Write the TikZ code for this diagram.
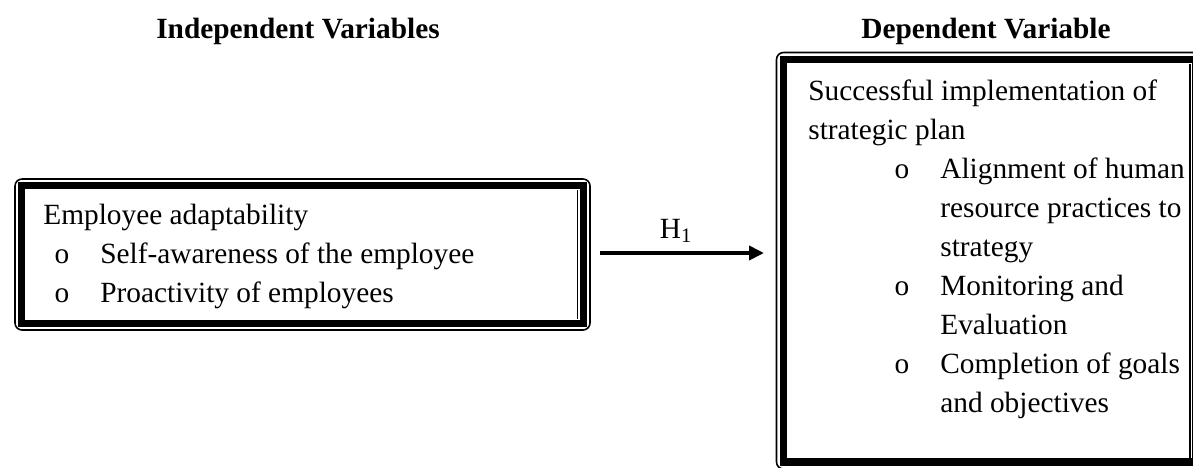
\documentclass[tikz,border=0pt]{standalone}
\usepackage{fontspec}
\setmainfont{Liberation Serif}
\usepackage{tikz}
\usetikzlibrary{arrows.meta}

\begin{document}
\begin{tikzpicture}[x=0.02cm, y=-0.02cm,
		txt/.style={anchor=base west, inner sep=0pt, font=\fontsize{16.7}{22}\selectfont},
		bul/.style={anchor=base, inner sep=0pt, font=\fontsize{16.7}{22}\selectfont},
		head/.style={anchor=base, inner sep=0pt, font=\fontsize{16.7}{22}\selectfont\bfseries},
		outerline/.style={line width=0.9pt, rounded corners=4pt},
		band/.style={line width=4.3pt},
		innerline/.style={line width=0.8pt},
		arr/.style={line width=2.5pt, -{Triangle[length=0.3cm, width=0.28cm]}}]
	\useasboundingbox (0,0) rectangle (1193,467);
	\clip (0,0) rectangle (1193,467);
	
	% headings
	\node[head] (iv) at (298,38) {Independent Variables};
	\node[head] (dv) at (986,38) {Dependent Variable};
	
	% left frame
	\draw[outerline] (15,179) rectangle (590,330);
	\draw[band] (21.5,185.5) rectangle (583.5,323.5);
	\draw[innerline] (577.5,190) -- (577.5,319);
	
	\node[txt] (ea) at (43,224) {Employee adaptability};
	\node[bul] (b1) at (62,263) {o};
	\node[txt] (sa) at (100,263) {Self-awareness of the employee};
	\node[bul] (b2) at (62,302) {o};
	\node[txt] (pe) at (100,302) {Proactivity of employees};
	
	% right frame (runs past the page edge)
	\draw[outerline] (776.5,52.5) rectangle (1203,469);
	\draw[band] (783.5,59.5) rectangle (1196,462);
	\draw[innerline] (1190,64) -- (1190,458);
	
	\node[txt] (si) at (808,100) {Successful implementation of};
	\node[txt] (sp) at (808,139) {strategic plan};
	\node[bul] (b3) at (902,178) {o};
	\node[txt] (al) at (940,178) {Alignment of human};
	\node[txt] (rp) at (940,217) {resource practices to};
	\node[txt] (st) at (940,256) {strategy};
	\node[bul] (b4) at (902,295) {o};
	\node[txt] (mo) at (940,295) {Monitoring and};
	\node[txt] (ev) at (940,334) {Evaluation};
	\node[bul] (b5) at (902,373) {o};
	\node[txt] (co) at (940,373) {Completion of goals};
	\node[txt] (ao) at (940,412) {and objectives};
	
	% hypothesis arrow
	\coordinate (hs) at (600,253);
	\coordinate (he) at (764,253);
	\draw[arr] (hs) -- (he);
	\node[bul] (h1) at (676,238) {H\textsubscript{1}};
\end{tikzpicture}
\end{document}
